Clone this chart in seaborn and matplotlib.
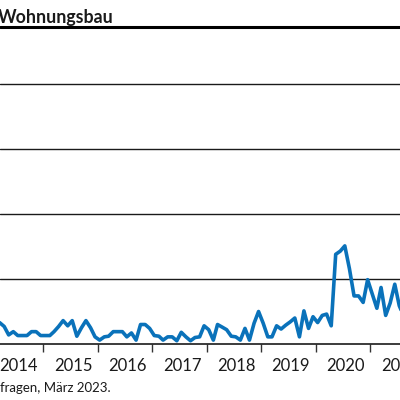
import matplotlib
matplotlib.use('Agg')
import matplotlib.pyplot as plt
import matplotlib.dates as mdates
import seaborn as sns
import pandas as pd

# monthly values, Feb 2014 .. Aug 2021 (visible part of the chart)
start_month = '2014-02-15'
values = [3.3, 2.7, 1.4, 1.9, 1.3, 1.3, 1.3, 1.9, 1.9, 1.3, 1.3,
          1.3, 1.9, 2.7, 3.6, 2.8, 3.6, 1.2, 2.5, 3.6, 2.5, 1.1, 0.6,
          1.1, 1.2, 1.9, 1.9, 1.9, 1.1, 1.7, 0.6, 3.0, 3.0, 2.4, 1.3,
          1.2, 0.6, 1.1, 1.1, 0.5, 1.8, 1.1, 0.5, 1.0, 1.1, 2.8, 2.2,
          0.6, 3.0, 2.6, 2.2, 1.2, 1.1, 0.6, 2.4, 0.6, 3.2, 5.0, 3.2,
          1.1, 1.1, 2.8, 2.3, 2.9, 3.4, 4.0, 1.1, 5.1, 2.4, 4.2, 3.3,
          4.4, 4.6, 2.8, 13.8, 14.3, 15.1, 11.6, 7.4, 7.4, 6.4, 9.9, 7.7,
          5.5, 8.7, 4.4, 6.3, 9.2, 5.9, 4.2, 3.7]
grid_values = [10, 20, 30, 40]
title = 'Wohnungsbau'
source = 'fragen, März 2023.'

dates = pd.date_range(start_month, periods=len(values), freq='MS') + pd.Timedelta(days=14)
df = pd.DataFrame({'date': dates, 'value': values})

sns.set_style('white')
plt.rcParams['font.family'] = ['Lato', 'DejaVu Sans']

fig = plt.figure(figsize=(4, 4), dpi=100)
ax = fig.add_axes([0, 0.14, 1, 0.666])

for g in grid_values:
    ax.axhline(g, color='#1a1a1a', lw=1.0, zorder=1)

sns.lineplot(data=df, x='date', y='value', ax=ax, color='#0a72ba', lw=2.6, zorder=3)

ax.set_xlim(pd.Timestamp('2014-03-18'), pd.Timestamp('2021-07-20'))
ax.set_ylim(0, 41)
ax.set_xlabel('')
ax.set_ylabel('')
ax.set_yticks([])

ax.xaxis.set_major_locator(mdates.YearLocator())
ax.xaxis.set_major_formatter(plt.NullFormatter())
ax.xaxis.set_minor_locator(mdates.MonthLocator(bymonth=7, bymonthday=20))
ax.xaxis.set_minor_formatter(mdates.DateFormatter('%Y'))
ax.tick_params(axis='x', which='major', direction='out', length=6, width=1,
               color='#333333', bottom=True)
ax.tick_params(axis='x', which='minor', length=0, labelsize=12, pad=10,
               labelcolor='#1a1a1a')

for side in ['top', 'left', 'right']:
    ax.spines[side].set_visible(False)
ax.spines['bottom'].set_color('#1a1a1a')
ax.spines['bottom'].set_linewidth(1.2)

fig.text(-0.006, 0.978, title, fontsize=12.8, fontweight='bold', va='top',
         ha='left', color='#1a1a1a')
fig.add_artist(plt.Line2D([0, 1], [0.932, 0.932], color='black', lw=2.2))
fig.text(0.0, 0.016, source, fontsize=9.5, ha='left', va='bottom', color='#1a1a1a')

fig.savefig('out.png', dpi=100)
